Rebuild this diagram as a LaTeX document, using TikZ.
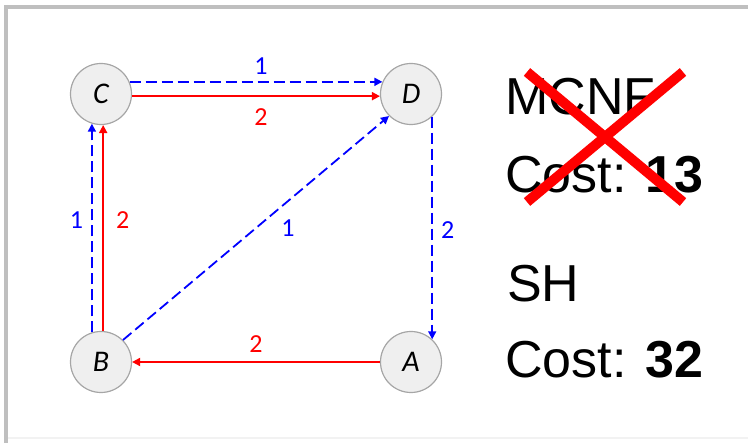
\documentclass[tikz,border=0pt]{standalone}
\usepackage{fontspec}
\setmainfont{Liberation Sans}
\newfontfamily\calibrifont{Carlito}
\usetikzlibrary{arrows.meta}
\definecolor{nodefill}{HTML}{EFEFEF}
\definecolor{nodeline}{HTML}{A6A6A6}
\definecolor{framegray}{HTML}{BFBFBF}
\definecolor{framelight}{HTML}{F2F2F2}
\definecolor{pathblue}{HTML}{0000FF}
\definecolor{pathred}{HTML}{FF0000}
\tikzset{
  vertex/.style={circle, draw=nodeline, fill=nodefill, line width=1.2pt, minimum size=61pt, inner sep=0pt, font=\calibrifont\itshape\fontsize{30}{36}\selectfont},
  mcnfarrow/.style={-{Triangle[length=8pt,width=8pt]}, line width=1.8pt, draw=pathblue, dash pattern=on 11pt off 5pt},
  sharrow/.style={-{Triangle[length=8pt,width=8pt]}, line width=1.8pt, draw=pathred},
  weight/.style={inner sep=0pt, font=\calibrifont\fontsize{26}{31}\selectfont},
  costtext/.style={anchor=base west, inner sep=0pt, font=\fontsize{52}{62}\selectfont}
}
\begin{document}
\begin{tikzpicture}[x=1pt,y=-1pt]
\useasboundingbox (0,0) rectangle (748,443);
% frame
\draw[framelight, line width=2pt] (8,438) -- (748,438);
\draw[framegray, line width=4pt] (4,7) -- (748,7);
\draw[framegray, line width=4pt] (6,5) -- (6,443);
% vertices
\node[vertex] (C) at (101,94) {C};
\node[vertex] (D) at (411,94) {D};
\node[vertex] (B) at (101,362) {B};
\node[vertex] (A) at (411,362) {A};
% MCNF flow (blue) and SH flow (red)
\draw[mcnfarrow] (C.23) -- node[weight, pathblue, pos=0.52, above=6pt] {1} (D.157);
\draw[sharrow] (C.-4) -- node[weight, pathred, pos=0.52, below=12pt] {2} (D.184);
\draw[mcnfarrow] (B.107) -- node[weight, pathblue, pos=0.54, left=8pt] {1} (C.253);
\draw[sharrow] (B.86) -- node[weight, pathred, pos=0.54, right=12pt] {2} (C.274);
\draw[mcnfarrow] (B.45) -- node[weight, pathblue, pos=0.62, below=18pt] {1} (D.225);
\draw[mcnfarrow] (D.-47) -- node[weight, pathblue, pos=0.51, right=8pt] {2} (A.47);
\draw[sharrow] (A) -- node[weight, pathred, pos=0.5, above=9pt] {2} (B);
% costs
\node[costtext] (mcnf) at (505,115) {MCNF};
\node[costtext] (mcnfcost) at (505,193) {Cost: \textbf{13}};
\node[costtext] (sh) at (507,302) {SH};
\node[costtext] (shcost) at (505,378) {Cost: \textbf{32}};
% cross over MCNF
\draw[pathred, line width=10pt] (527,72) -- (683,202);
\draw[pathred, line width=10pt] (683,72) -- (527,202);
\end{tikzpicture}
\end{document}
